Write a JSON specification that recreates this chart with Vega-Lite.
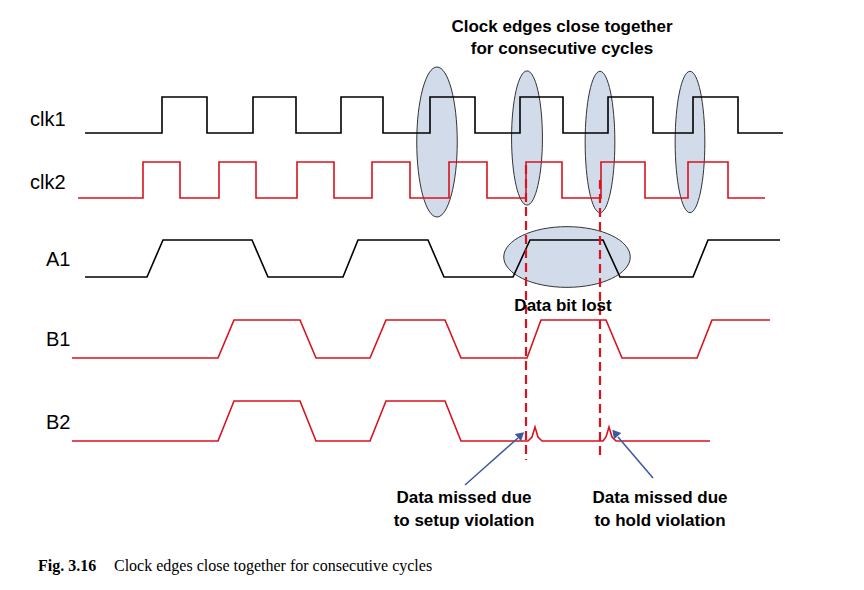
{
  "$schema": "https://vega.github.io/schema/vega-lite/v6.json",
  "width": 864, "height": 590,
  "autosize": {"type": "fit", "contains": "padding"},
  "padding": 0,
  "background": "white",
  "config": {"view": {"stroke": null}},
  "datasets": {
    "waves": [
      {"s":"clk1","x":85,"y":133},{"s":"clk1","x":162,"y":133},{"s":"clk1","x":162,"y":97},{"s":"clk1","x":207,"y":97},{"s":"clk1","x":207,"y":133},{"s":"clk1","x":253,"y":133},{"s":"clk1","x":253,"y":97},{"s":"clk1","x":296,"y":97},{"s":"clk1","x":296,"y":133},{"s":"clk1","x":341,"y":133},{"s":"clk1","x":341,"y":97},{"s":"clk1","x":383,"y":97},{"s":"clk1","x":383,"y":133},{"s":"clk1","x":430,"y":133},{"s":"clk1","x":430,"y":97},{"s":"clk1","x":475,"y":97},{"s":"clk1","x":475,"y":133},{"s":"clk1","x":520,"y":133},{"s":"clk1","x":520,"y":97},{"s":"clk1","x":563,"y":97},{"s":"clk1","x":563,"y":133},{"s":"clk1","x":608,"y":133},{"s":"clk1","x":608,"y":97},{"s":"clk1","x":653,"y":97},{"s":"clk1","x":653,"y":133},{"s":"clk1","x":693,"y":133},{"s":"clk1","x":693,"y":97},{"s":"clk1","x":738,"y":97},{"s":"clk1","x":738,"y":133},{"s":"clk1","x":783,"y":133},
      {"s":"clk2","x":78,"y":198},{"s":"clk2","x":143,"y":198},{"s":"clk2","x":143,"y":162},{"s":"clk2","x":180,"y":162},{"s":"clk2","x":180,"y":198},{"s":"clk2","x":219,"y":198},{"s":"clk2","x":219,"y":162},{"s":"clk2","x":256,"y":162},{"s":"clk2","x":256,"y":198},{"s":"clk2","x":297,"y":198},{"s":"clk2","x":297,"y":162},{"s":"clk2","x":334,"y":162},{"s":"clk2","x":334,"y":198},{"s":"clk2","x":372,"y":198},{"s":"clk2","x":372,"y":162},{"s":"clk2","x":410,"y":162},{"s":"clk2","x":410,"y":198},{"s":"clk2","x":449,"y":198},{"s":"clk2","x":449,"y":162},{"s":"clk2","x":487,"y":162},{"s":"clk2","x":487,"y":198},{"s":"clk2","x":526,"y":198},{"s":"clk2","x":526,"y":162},{"s":"clk2","x":562,"y":162},{"s":"clk2","x":562,"y":198},{"s":"clk2","x":601,"y":198},{"s":"clk2","x":601,"y":162},{"s":"clk2","x":645,"y":162},{"s":"clk2","x":645,"y":198},{"s":"clk2","x":688,"y":198},{"s":"clk2","x":688,"y":162},{"s":"clk2","x":728,"y":162},{"s":"clk2","x":728,"y":198},{"s":"clk2","x":765,"y":198},
      {"s":"A1","x":85,"y":277},{"s":"A1","x":147,"y":277},{"s":"A1","x":163,"y":240},{"s":"A1","x":252,"y":240},{"s":"A1","x":268,"y":277},{"s":"A1","x":343,"y":277},{"s":"A1","x":358,"y":240},{"s":"A1","x":428,"y":240},{"s":"A1","x":444,"y":277},{"s":"A1","x":513,"y":277},{"s":"A1","x":530,"y":240},{"s":"A1","x":603,"y":240},{"s":"A1","x":620,"y":277},{"s":"A1","x":693,"y":277},{"s":"A1","x":708,"y":240},{"s":"A1","x":780,"y":240},
      {"s":"B1","x":72,"y":358},{"s":"B1","x":218,"y":358},{"s":"B1","x":234,"y":320},{"s":"B1","x":300,"y":320},{"s":"B1","x":316,"y":358},{"s":"B1","x":370,"y":358},{"s":"B1","x":386,"y":320},{"s":"B1","x":445,"y":320},{"s":"B1","x":461,"y":358},{"s":"B1","x":527,"y":358},{"s":"B1","x":541,"y":320},{"s":"B1","x":606,"y":320},{"s":"B1","x":622,"y":358},{"s":"B1","x":697,"y":358},{"s":"B1","x":712,"y":320},{"s":"B1","x":770,"y":320},
      {"s":"B2","x":72,"y":441},{"s":"B2","x":218,"y":441},{"s":"B2","x":234,"y":401},{"s":"B2","x":300,"y":401},{"s":"B2","x":316,"y":441},{"s":"B2","x":370,"y":441},{"s":"B2","x":386,"y":401},{"s":"B2","x":445,"y":401},{"s":"B2","x":461,"y":441},{"s":"B2","x":528,"y":441},{"s":"B2","x":532,"y":437},{"s":"B2","x":535,"y":427},{"s":"B2","x":538,"y":437},{"s":"B2","x":542,"y":441},{"s":"B2","x":603,"y":441},{"s":"B2","x":606,"y":437},{"s":"B2","x":609,"y":427},{"s":"B2","x":612,"y":437},{"s":"B2","x":616,"y":441},{"s":"B2","x":710,"y":441}
    ],
    "ellipses": [
      {"x":437,"y":142,"shape":"M0,-1A0.27,1 0 1,0 0,1A0.27,1 0 1,0 0,-1","size":22500},
      {"x":527,"y":138,"shape":"M0,-1A0.23,1 0 1,0 0,1A0.23,1 0 1,0 0,-1","size":18000},
      {"x":600,"y":142,"shape":"M0,-1A0.21,1 0 1,0 0,1A0.21,1 0 1,0 0,-1","size":20000},
      {"x":690,"y":142,"shape":"M0,-1A0.21,1 0 1,0 0,1A0.21,1 0 1,0 0,-1","size":20000},
      {"x":567,"y":257,"shape":"M-1,0A1,0.48 0 1,0 1,0A1,0.48 0 1,0 -1,0","size":16000}
    ],
    "labels": [
      {"t":"clk1","x":30,"y":120},{"t":"clk2","x":30,"y":183},{"t":"A1","x":46,"y":260},{"t":"B1","x":46,"y":340},{"t":"B2","x":46,"y":423}
    ],
    "notes": [
      {"t":"Clock edges close together","x":562,"y":27},{"t":"for consecutive cycles","x":562,"y":49},{"t":"Data bit lost","x":563,"y":306},
      {"t":"Data missed due","x":464,"y":498},{"t":"to setup violation","x":464,"y":521},
      {"t":"Data missed due","x":660,"y":498},{"t":"to hold violation","x":660,"y":521}
    ]
  },
  "encoding": {
    "x": {"field":"x","type":"quantitative","scale":{"domain":[0,864]},"axis":null},
    "y": {"field":"y","type":"quantitative","scale":{"domain":[0,590],"reverse":true},"axis":null}
  },
  "layer": [
    {"data":{"name":"ellipses"},"mark":{"type":"point","filled":true,"fill":"#c9d5e6","fillOpacity":0.85,"stroke":"#333333","strokeWidth":1},
     "encoding":{"shape":{"field":"shape","type":"nominal","scale":null},"size":{"field":"size","type":"quantitative","scale":null}}},
    {"data":{"name":"waves"},"mark":{"type":"line","strokeWidth":1.6},
     "encoding":{"detail":{"field":"s"},"order":{"value":null},
       "color":{"field":"s","type":"nominal","legend":null,"scale":{"domain":["clk1","clk2","A1","B1","B2"],"range":["#000000","#d9121e","#000000","#d9121e","#d9121e"]}}}},
    {"data":{"values":[{"x":526,"y":165,"y2":460},{"x":600,"y":180,"y2":460}]},"mark":{"type":"rule","color":"#d9121e","strokeWidth":2.2,"strokeDash":[9,5]},
     "encoding":{"y2":{"field":"y2"}}},
    {"data":{"values":[{"x":465,"y":485,"x2":518,"y2":438},{"x":653,"y":478,"x2":618,"y2":437}]},"mark":{"type":"rule","color":"#3a5a9c","strokeWidth":1.5},
     "encoding":{"x2":{"field":"x2"},"y2":{"field":"y2"}}},
    {"data":{"values":[{"x":521,"y":435,"a":49},{"x":615,"y":433,"a":-40}]},"mark":{"type":"point","shape":"triangle-up","filled":true,"color":"#3a5a9c","size":90,"opacity":1},
     "encoding":{"angle":{"field":"a","type":"quantitative","scale":null}}},
    {"data":{"name":"labels"},"mark":{"type":"text","align":"left","font":"Liberation Sans","fontSize":20},
     "encoding":{"text":{"field":"t"}}},
    {"data":{"name":"notes"},"mark":{"type":"text","align":"center","font":"Liberation Sans","fontSize":17,"fontWeight":"bold"},
     "encoding":{"text":{"field":"t"}}},
    {"data":{"values":[{"t":"Fig. 3.16","x":38,"y":566}]},
     "mark":{"type":"text","align":"left","font":"Liberation Serif","fontSize":16,"fontWeight":"bold"},
     "encoding":{"text":{"field":"t"}}},
    {"data":{"values":[{"t":"Clock edges close together for consecutive cycles","x":114,"y":566}]},
     "mark":{"type":"text","align":"left","font":"Liberation Serif","fontSize":16},
     "encoding":{"text":{"field":"t"}}}
  ]
}
